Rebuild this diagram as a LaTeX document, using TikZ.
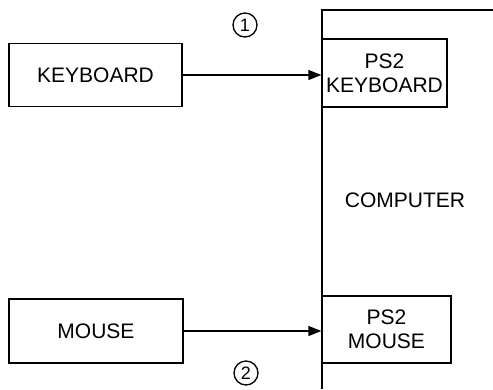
\documentclass[tikz,border=0pt]{standalone}
\usepackage{fontspec}
\setmainfont{Liberation Sans}
\usetikzlibrary{arrows.meta}
\begin{document}
\begin{tikzpicture}[x=1pt,y=-1pt,line width=1.3pt,
  box/.style={draw,inner sep=0pt,align=center,font=\fontsize{21}{24}\selectfont},
  num/.style={draw,circle,inner sep=0pt,minimum size=24pt,font=\fontsize{18}{18}\selectfont},
  arr/.style={-{Triangle[length=13pt,width=10pt]}}]
\useasboundingbox (0,0) rectangle (493,389);
% computer outline
\coordinate (ctl) at (322,10);
\coordinate (ctr) at (493,10);
\coordinate (cbl) at (322,389);
\draw (ctr) -- (ctl) -- (cbl);
\node[font=\fontsize{21}{24}\selectfont] (comp) at (405,200) {COMPUTER};
% boxes
\node[box,minimum width=173pt,minimum height=63pt] (kb) at (95.5,75) {KEYBOARD};
\node[box,minimum width=174pt,minimum height=64pt] (ms) at (96,331) {MOUSE};
\node[box,minimum width=125pt,minimum height=68pt] (pkb) at (384.5,73) {PS2\\KEYBOARD};
\node[box,minimum width=129pt,minimum height=67pt] (pms) at (386.5,329.5) {PS2\\MOUSE};
% arrows
\draw[arr] (kb.east) -- (kb.east -| pkb.west);
\draw[arr] (ms.east) -- (ms.east -| pms.west);
% numbers
\node[num] (n1) at (245,25) {1};
\node[num] (n2) at (246,373) {2};
\end{tikzpicture}
\end{document}
